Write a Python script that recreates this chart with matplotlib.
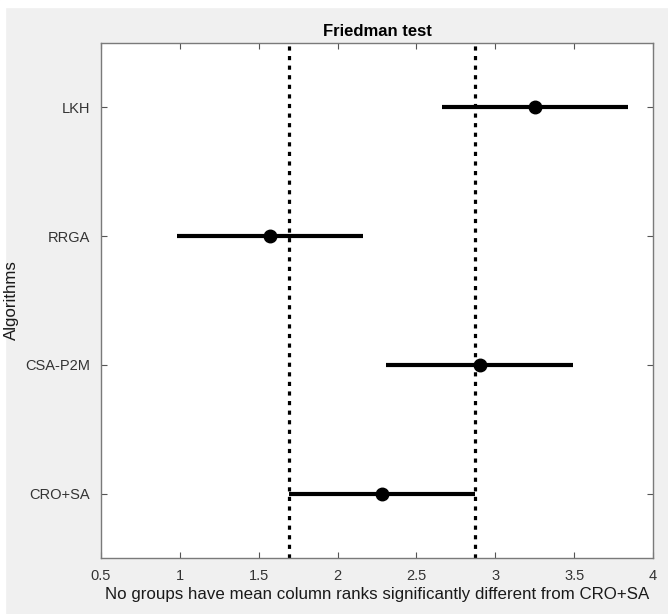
import matplotlib
matplotlib.use("Agg")
import matplotlib.pyplot as plt
from matplotlib.patches import Rectangle

# mean column ranks from the Friedman test, with comparison interval half width
algorithms = ["LKH", "RRGA", "CSA-P2M", "CRO+SA"]
mean_ranks = [3.25, 1.57, 2.90, 2.28]
half_width = 0.59
ref_group = "CRO+SA"

xticks = [0.5, 1, 1.5, 2, 2.5, 3, 3.5, 4]
xtick_labels = ["0.5", "1", "1.5", "2", "2.5", "3", "3.5", "4"]

plt.rcParams["font.family"] = ["Liberation Sans", "DejaVu Sans"]

fig = plt.figure(figsize=(6.68, 6.14), dpi=100, facecolor="#f0f0f0")
# thin white border at the top and left like the screenshot
fig.patches.append(Rectangle((0, 1 - 7 / 614), 1, 7 / 614, transform=fig.transFigure,
                             color="white", zorder=-1))
fig.patches.append(Rectangle((0, 0), 5 / 668, 1, transform=fig.transFigure,
                             color="white", zorder=-1))

ax = fig.add_axes([101 / 668, 1 - 558 / 614, (653 - 101) / 668, (558 - 43) / 614])
ax.set_facecolor("white")

n = len(algorithms)
ypos = [n - i for i in range(n)]  # first group on top

# dotted lines at the reference group's interval
ri = algorithms.index(ref_group)
for xv in (mean_ranks[ri] - half_width, mean_ranks[ri] + half_width):
    ax.axvline(xv, color="black", linewidth=2.3, linestyle=(0, (1.3, 1.7)),
               dash_capstyle="butt", zorder=2, clip_on=False)

for y, m in zip(ypos, mean_ranks):
    ax.plot([m - half_width, m + half_width], [y, y], color="black",
            linewidth=3.0, solid_capstyle="butt", zorder=3)
    ax.plot(m, y, "o", color="black", markersize=9, zorder=4)

ax.set_xlim(0.5, 4)
ax.set_ylim(0.5, n + 0.5)
ax.set_xticks(xticks)
ax.set_xticklabels(xtick_labels)
ax.set_yticks(ypos)
ax.set_yticklabels(algorithms)

ax.tick_params(direction="in", top=True, right=True, length=4, width=0.8,
               color="#555555", labelcolor="#333333", labelsize=10.5, pad=8)
for s in ax.spines.values():
    s.set_color("#7a7a7a")
    s.set_linewidth(1.0)

ax.set_title("Friedman test", fontsize=12, fontweight="bold", color="black", pad=5)
ax.set_xlabel("No groups have mean column ranks significantly different from CRO+SA",
              fontsize=12.2, color="#1a1a1a", labelpad=3)
ax.set_ylabel("Algorithms", fontsize=12.2, color="#1a1a1a", labelpad=4)

fig.savefig("out.png", dpi=100, facecolor=fig.get_facecolor())
